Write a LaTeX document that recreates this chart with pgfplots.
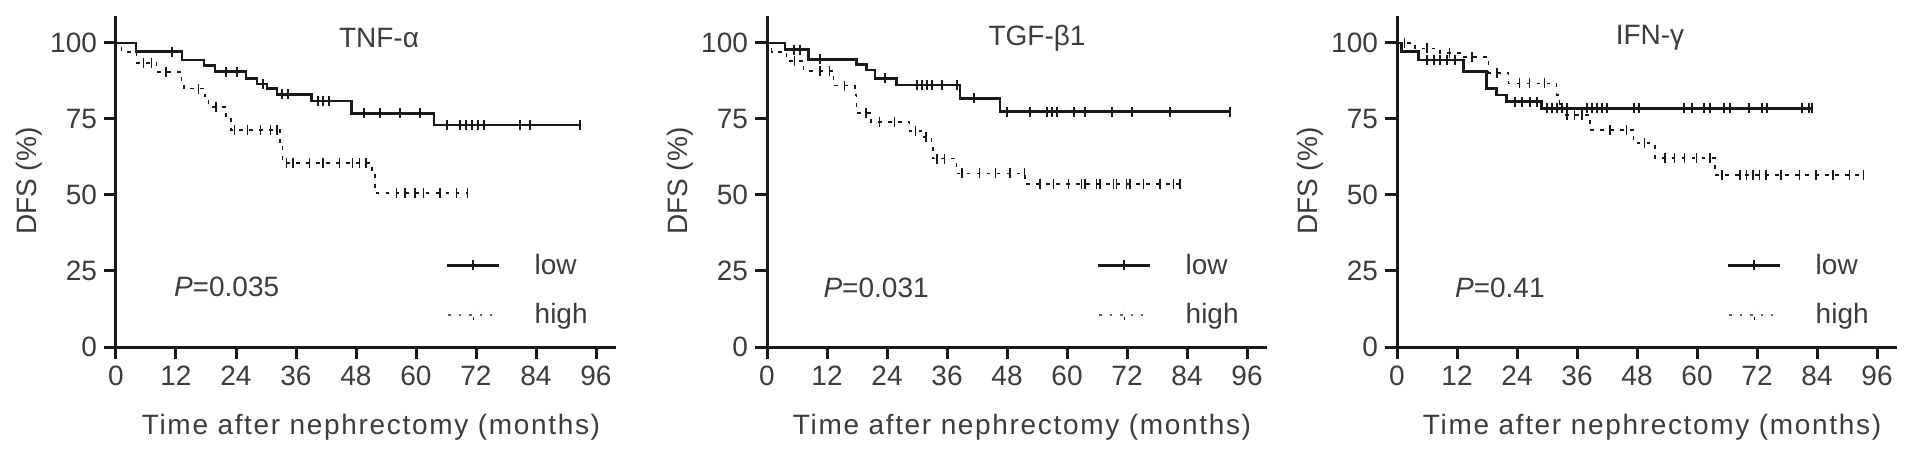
\documentclass[border=0pt]{standalone}
\usepackage{fontspec}
\setmainfont{Liberation Sans}
\newfontfamily\spacedfont[LetterSpace=6]{Liberation Sans}
\usepackage{pgfplots}
\pgfplotsset{compat=1.18}
\definecolor{txt}{RGB}{60,60,60}
\definecolor{ink}{RGB}{25,25,25}
\newcommand{\fs}{\fontsize{14}{16}\selectfont}
\pgfplotsset{
 kmaxis/.style={
  scale only axis, width=250pt, height=165.7pt,
  xmin=0,xmax=100,ymin=0,ymax=109,
  axis lines=left, axis line style={-, line width=1.5pt, ink},
  xtick={0,12,...,96}, ytick={0,25,50,75,100},
  tick align=outside, major tick length=6pt,
  every tick/.style={line width=1.5pt, ink},
  tick label style={font=\fs, text=txt},
  /pgf/number format/assume math mode=true,
  xlabel={\spacedfont Time after nephrectomy (months)},
  ylabel={DFS (\%)},
  label style={font=\fs, text=txt},
  xlabel style={at={(axis description cs:0.51,-0.241)}, anchor=center},
  ylabel style={at={(axis description cs:-0.174,0.5)}, anchor=center},
  clip=false,
  legend style={at={(axis cs:66,32)}, anchor=north west, draw=none, fill=none,
    inner sep=0pt, outer sep=0pt, font=\fs, text=txt, row sep=9.35pt,
    cells={anchor=west, inner sep=0pt},
    /tikz/every odd column/.append style={column sep=15pt}},
 },
 low/.style={const plot, ink, line width=1.35pt, no marks},
 high/.style={const plot, ink, line width=0.9pt, dash pattern=on 1.8pt off 3.2pt, no marks},
 lowc/.style={only marks, mark=|, mark size=2.5pt, ink, mark options={line width=1pt, solid}, forget plot},
 highc/.style={only marks, mark=|, mark size=2.5pt, ink, mark options={line width=0.8pt, solid}, forget plot},
 lowleg/.style={legend image code/.code={\draw[ink, line width=1.35pt] (0pt,0pt) -- (26pt,0pt); \draw[ink, line width=1pt] (13pt,-2.5pt) -- (13pt,2.5pt);}},
 highleg/.style={legend image code/.code={\draw[ink!70, line width=0.9pt, dash pattern=on 1.2pt off 4pt] (0.5pt,0pt) -- (26pt,0pt); \draw[ink, line width=0.8pt] (13pt,-2.5pt) -- (13pt,2.5pt);}},
}
\begin{document}
\begin{tikzpicture}
\path[use as bounding box] (0,0) rectangle (956.5pt,228.5pt);
% ---------------- Panel 1: TNF-alpha
\begin{axis}[kmaxis, at={(58pt,55pt)}, anchor=south west]
\addplot[low, lowleg] coordinates {(0,100)(4,97.1)(13.2,94.4)(17.6,92.6)(19.8,90.6)(26,88.4)(28.2,86.5)(30.2,85)(32.2,83.1)(39.1,80.9)(47.1,76.9)(63.6,73.0)(92.8,73.0)};
\addlegendentry{low}
\addplot[lowc] coordinates {(11.3,97.1)(22.1,90.6)(24.1,90.6)(29.3,86.5)(33.2,83.1)(34.4,83.1)(40.3,80.9)(41.4,80.9)(42.5,80.9)(49.5,76.9)(52.8,76.9)(56.8,76.9)(60.8,76.9)(66.1,73)(68.8,73)(70,73)(71.2,73)(72.4,73)(73.6,73)(80.7,73)(82.8,73)(92.8,73)};
\addplot[high, highleg] coordinates {(0,100)(1.1,97.1)(4.1,93.5)(8.1,90.5)(13.1,87)(13.6,85)(17.8,82.5)(18.5,79)(22,76)(23,71.5)(32.8,67)(33.3,60.5)(51.2,58.2)(51.8,50.6)(70.3,50.6)};
\addlegendentry{high}
\addplot[highc] coordinates {(5.5,93.5)(7.1,93.5)(10,90.5)(16.5,85)(20,79)(23.7,71.5)(26.3,71.5)(28.9,71.5)(30.9,71.5)(32.2,71.5)(34.1,60.5)(35.4,60.5)(38.7,60.5)(41.4,60.5)(44.7,60.5)(47.3,60.5)(48.7,60.5)(50,60.5)(56.1,50.6)(57.8,50.6)(59.8,50.6)(61.5,50.6)(64.8,50.6)(68.1,50.6)(70.3,50.6)};
\node[font=\fs, text=txt] at (axis cs:52.6,101.6) {TNF-α};
\node[font=\fs, text=txt, anchor=west] at (axis cs:10.2,19.7) {\textit{P}=0.035};
\end{axis}
% ---------------- Panel 2: TGF-beta1
\begin{axis}[kmaxis, at={(383.5pt,55pt)}, anchor=south west]
\addplot[low, lowleg] coordinates {(0,100)(3.6,97.8)(8.3,94.6)(17.9,93)(19.9,91.1)(21.6,88.4)(25.9,86.2)(38.6,81.8)(46.6,77.4)(92.6,77.4)};
\addlegendentry{low}
\addplot[lowc] coordinates {(5.3,97.8)(6.6,97.8)(10.6,94.6)(23.6,88.4)(30,86.2)(31,86.2)(32,86.2)(33,86.2)(34.9,86.2)(37.9,86.2)(41.3,81.8)(47.9,77.4)(52.6,77.4)(56,77.4)(57,77.4)(58,77.4)(61.3,77.4)(63.6,77.4)(68.9,77.4)(72.9,77.4)(80.6,77.4)(92.6,77.4)};
\addplot[high, highleg] coordinates {(0,100)(0.9,97.1)(3.9,94.2)(7.3,90.8)(13.3,86)(17.6,83)(17.9,77)(20.8,74.1)(28.5,71)(31.3,69)(32.9,66.4)(33.2,62)(37.9,57.1)(51.6,53.6)(82.6,53.6)};
\addlegendentry{high}
\addplot[highc] coordinates {(5.5,94.2)(10.6,90.8)(12.5,90.8)(15.5,86)(19.8,77)(22.5,74.1)(25.5,74.1)(29.7,71)(31.8,69)(34,62)(35.5,62)(39,57.1)(42.5,57.1)(45.7,57.1)(48.6,57.1)(51.5,57.1)(54.6,53.6)(57.3,53.6)(60.3,53.6)(62.9,53.6)(63.6,53.6)(65.9,53.6)(66.6,53.6)(69.3,53.6)(69.9,53.6)(71.9,53.6)(72.6,53.6)(75.3,53.6)(78.6,53.6)(81.3,53.6)(82.6,53.6)};
\node[font=\fs, text=txt] at (axis cs:54,101.6) {TGF-β1};
\node[font=\fs, text=txt, anchor=west] at (axis cs:9.9,19.5) {\textit{P}=0.031};
\end{axis}
% ---------------- Panel 3: IFN-gamma
\begin{axis}[kmaxis, at={(698.5pt,55pt)}, anchor=south west]
\addplot[low, lowleg] coordinates {(0,100)(0.9,97.1)(4.3,94.4)(13.3,90.6)(17.9,85.1)(19.9,82.9)(21.9,80.7)(28.9,78.5)(82.9,78.5)};
\addlegendentry{low}
\addplot[lowc] coordinates {(5.9,94.4)(7.3,94.4)(8.6,94.4)(9.9,94.4)(11.6,94.4)(23.5,80.7)(25,80.7)(26.5,80.7)(27.9,80.7)(30,78.5)(31,78.5)(32,78.5)(33,78.5)(34,78.5)(38,78.5)(39,78.5)(40,78.5)(41,78.5)(42,78.5)(47.3,78.5)(48.3,78.5)(57.3,78.5)(58.9,78.5)(61.3,78.5)(62.6,78.5)(65.3,78.5)(66.6,78.5)(70.3,78.5)(72.9,78.5)(73.9,78.5)(80.9,78.5)(82.3,78.5)(82.9,78.5)};
\addplot[high, highleg] coordinates {(0,100)(3.6,98.2)(8.6,96.8)(12.9,95.4)(18.3,90.2)(22.3,86.7)(31.9,83)(32.5,80)(32.9,76.3)(38.6,71.4)(47.3,67)(51.6,62.1)(63.6,56.6)(93.3,56.6)};
\addlegendentry{high}
\addplot[highc] coordinates {(1.5,100)(6,98.2)(10.5,96.8)(15,95.4)(20,90.2)(24.5,86.7)(26.5,86.7)(29.5,86.7)(34,76.3)(35.5,76.3)(37,76.3)(42.6,71.4)(45.9,71.4)(49.5,67)(53.6,62.1)(55.5,62.1)(57.5,62.1)(59.9,62.1)(62.6,62.1)(65,56.6)(68.6,56.6)(69.9,56.6)(71.2,56.6)(72.5,56.6)(73.8,56.6)(76.8,56.6)(80.5,56.6)(83.8,56.6)(87.2,56.6)(90.5,56.6)(93.3,56.6)};
\node[font=\fs, text=txt] at (axis cs:50.6,101.6) {IFN-γ};
\node[font=\fs, text=txt, anchor=west] at (axis cs:10.2,19.5) {\textit{P}=0.41};
\end{axis}
\end{tikzpicture}
\end{document}
